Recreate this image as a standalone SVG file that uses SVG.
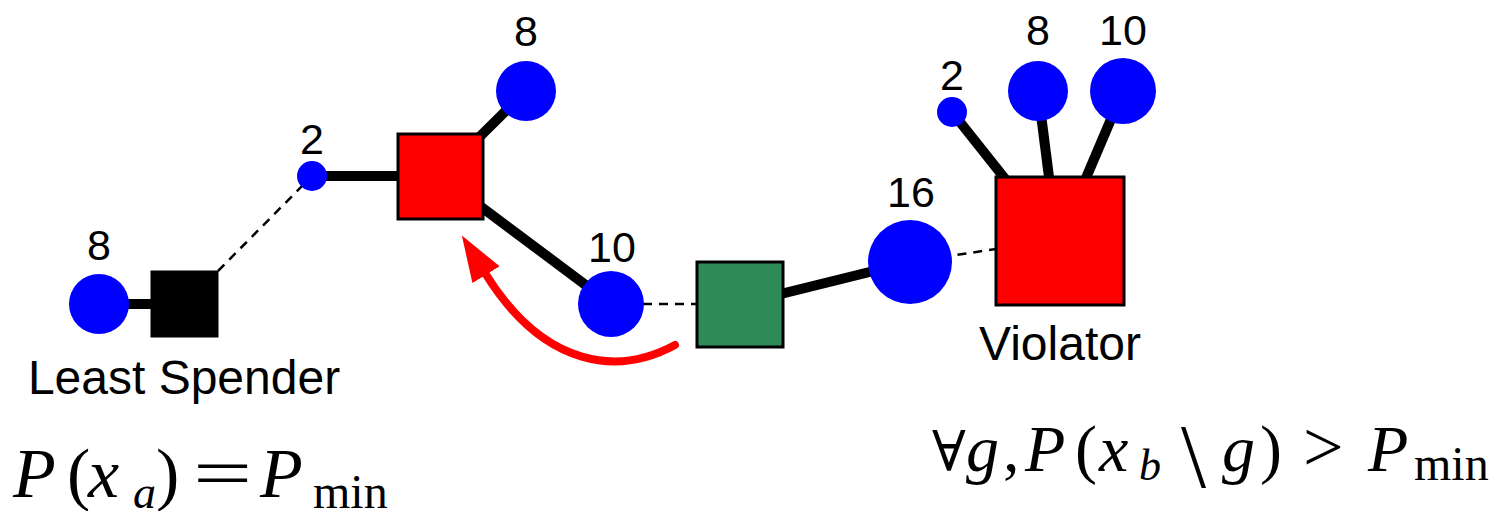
<svg xmlns="http://www.w3.org/2000/svg" width="1503" height="511" viewBox="0 0 1503 511">
<style>
.edge{stroke:#000;stroke-width:10;fill:none}
.dash{stroke:#000;stroke-width:2.5;stroke-dasharray:9,7;fill:none}
.dot{fill:#0000ff}
.red{fill:#ff0000;stroke:#000;stroke-width:3}
.lbl{font-family:"Liberation Sans","DejaVu Sans",sans-serif;font-size:43px;fill:#000;text-anchor:middle}
.name{font-family:"Liberation Sans","DejaVu Sans",sans-serif;font-size:48px;fill:#000;text-anchor:middle}
.math{font-family:"Liberation Serif","DejaVu Serif",serif;fill:#000}
.it{font-style:italic}
</style>
<defs>
<marker id="ah" markerUnits="userSpaceOnUse" markerWidth="46" markerHeight="32" refX="2" refY="16" orient="auto">
<path d="M0,0 L46,16 L0,32 Z" fill="#ff0000"/>
</marker>
</defs>
<g id="connectors">
<line class="edge" x1="99" y1="304" x2="184" y2="304"/>
<line class="dash" x1="218" y1="271" x2="312" y2="176"/>
<line class="edge" x1="312" y1="176" x2="440" y2="176"/>
<line class="edge" x1="440" y1="176" x2="526" y2="91"/>
<line class="edge" x1="440" y1="176" x2="611" y2="304"/>
<line class="dash" x1="611" y1="304" x2="740" y2="304"/>
<line class="edge" x1="740" y1="304" x2="910" y2="262"/>
<line class="dash" x1="910" y1="262" x2="996" y2="249"/>
<line class="edge" x1="952" y1="112" x2="1010" y2="185"/>
<line class="edge" x1="1038" y1="91" x2="1050" y2="185"/>
<line class="edge" x1="1123" y1="91" x2="1083" y2="185"/>
<path d="M675,345 C620,375 545,370 485,273" fill="none" stroke="#ff0000" stroke-width="8" stroke-linecap="round" marker-end="url(#ah)"/>
</g>
<g id="least-spender-leaf">
<circle class="dot" cx="99" cy="304" r="30"/>
<text class="lbl" x="99" y="260">8</text>
</g>
<g id="least-spender">
<rect x="151" y="271" width="67" height="66" fill="#000" stroke="#000" stroke-width="1"/>
<text class="name" x="184" y="394">Least Spender</text>
</g>
<g id="n2-left">
<circle class="dot" cx="312" cy="176" r="15"/>
<text class="lbl" x="312" y="154">2</text>
</g>
<g id="red-square-1">
<rect class="red" x="398" y="134" width="85" height="85"/>
</g>
<g id="n8-top">
<circle class="dot" cx="526" cy="91" r="30"/>
<text class="lbl" x="526" y="46">8</text>
</g>
<g id="n10-mid">
<circle class="dot" cx="611" cy="304" r="33"/>
<text class="lbl" x="612" y="262">10</text>
</g>
<g id="green-square">
<rect x="697" y="262" width="86" height="85" fill="#2e8b57" stroke="#000" stroke-width="3"/>
</g>
<g id="n16">
<circle class="dot" cx="910" cy="262" r="42"/>
<text class="lbl" x="911" y="207">16</text>
</g>
<g id="violator">
<rect class="red" x="996" y="177" width="128" height="128"/>
<text class="name" x="1060" y="360">Violator</text>
</g>
<g id="n2-right">
<circle class="dot" cx="952" cy="112" r="15"/>
<text class="lbl" x="952" y="90">2</text>
</g>
<g id="n8-right">
<circle class="dot" cx="1038" cy="91" r="30"/>
<text class="lbl" x="1038" y="45">8</text>
</g>
<g id="n10-right">
<circle class="dot" cx="1123" cy="91" r="33"/>
<text class="lbl" x="1123" y="45">10</text>
</g>
<g id="formula-left">
<text class="math" font-size="70" y="497"><tspan class="it" x="13">P</tspan><tspan x="67">(</tspan><tspan class="it" x="88">x</tspan><tspan class="it" font-size="46" x="133" y="508">a</tspan><tspan x="156" y="497">)</tspan><tspan class="it" x="260">P</tspan><tspan font-size="48" x="313" y="508">min</tspan></text>
<text class="math" font-size="70" transform="translate(193,497) scale(1.5,1)">=</text>
</g>
<g id="formula-right">
<text class="math" font-size="66" y="471"><tspan font-size="56" x="932">∀</tspan><tspan class="it" x="966">g</tspan><tspan x="1003">,</tspan><tspan class="it" x="1025">P</tspan><tspan x="1075">(</tspan><tspan class="it" x="1099">x</tspan><tspan class="it" font-size="44" x="1139" y="480">b</tspan><tspan font-size="90" x="1181" y="487">\</tspan><tspan class="it" x="1222" y="471">g</tspan><tspan x="1260">)</tspan><tspan font-size="72" x="1303">&gt;</tspan><tspan class="it" x="1368">P</tspan><tspan font-size="48" x="1414" y="480">min</tspan></text>
</g>
</svg>
